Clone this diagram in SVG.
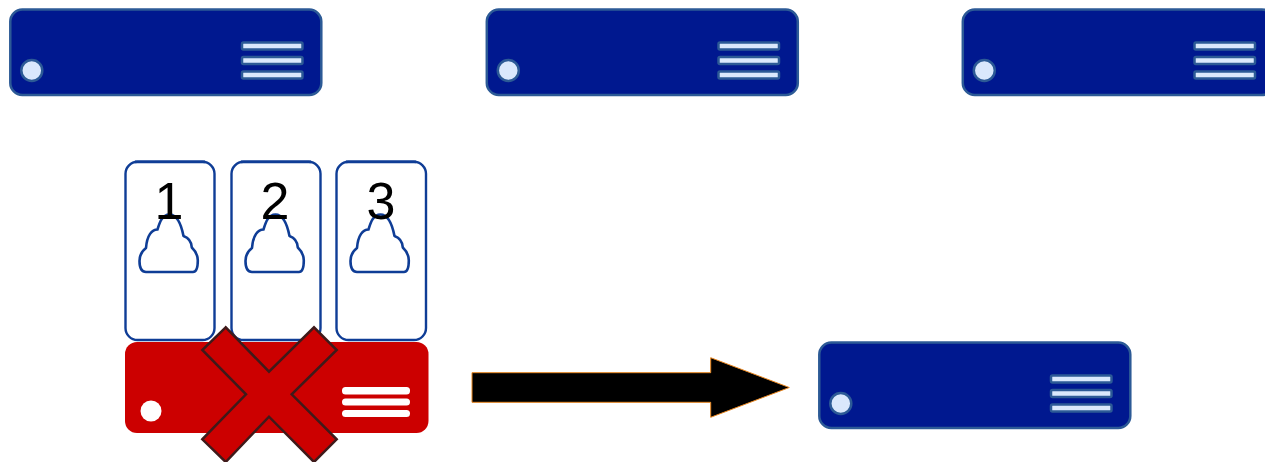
<svg xmlns="http://www.w3.org/2000/svg" xmlns:xlink="http://www.w3.org/1999/xlink" width="1265" height="462" viewBox="0 0 1265 462">
<style>
.body{fill:#00188f;stroke:#2c5a96;stroke-width:2.500}
.lamp{fill:#dae8fc;stroke:#2c5a96;stroke-width:2.500}
.rbody{fill:#cc0000}
.rlamp{fill:#ffffff}
.card{fill:#ffffff;stroke:#0f3d96;stroke-width:2.400}
.cap{fill:none;stroke:#0f3d96;stroke-width:2.800}
.cloud{fill:#ffffff;stroke:#0f3d96;stroke-width:2.600;stroke-linejoin:round}
.num{font-family:"Liberation Sans",Arial,sans-serif;font-size:52px;fill:#000000;text-anchor:middle}
</style>
<defs>
<g id="server">
<rect class="body" x="10.300" y="9.500" width="311" height="85.500" rx="12" ry="12"/>
<circle class="lamp" cx="31.800" cy="70.500" r="10.500"/>
<rect class="lamp" x="242" y="42.500" width="60.500" height="7" rx="1.500"/>
<rect class="lamp" x="242" y="57" width="60.500" height="7" rx="1.500"/>
<rect class="lamp" x="242" y="71.500" width="60.500" height="7" rx="1.500"/>
</g>
<path id="cloud" d="M146 272H193C196.500 272 197.800 266 197.800 260.500C197.800 255 195 250.500 191.800 247.500C191.500 242 189 238 183.500 236C181.500 226 178 214.500 169.500 214.500C162 214.500 159.500 223 157.500 229.500C152 229.500 147 235 146 248C142 251 139.500 255.500 139.500 261C139.500 267 141.500 272 146 272Z"/>
</defs>
<g id="connectors"></g>
<g id="server-1"><use xlink:href="#server" href="#server"/></g>
<g id="server-2"><use xlink:href="#server" href="#server" x="476.500"/></g>
<g id="server-3"><use xlink:href="#server" href="#server" x="952.500"/></g>
<g id="card-1">
<rect class="card" x="125.500" y="161.800" width="89" height="178.200" rx="12"/>
<path class="cap" d="M135 161.800H205"/>
<use class="cloud" xlink:href="#cloud" href="#cloud"/>
<text class="num" x="169" y="219">1</text>
</g>
<g id="card-2">
<rect class="card" x="231.500" y="161.800" width="89" height="178.200" rx="12"/>
<path class="cap" d="M241 161.800H311"/>
<use class="cloud" xlink:href="#cloud" href="#cloud" x="106"/>
<text class="num" x="275" y="219">2</text>
</g>
<g id="card-3">
<rect class="card" x="336.500" y="161.800" width="89.500" height="178.200" rx="12"/>
<path class="cap" d="M346 161.800H416"/>
<use class="cloud" xlink:href="#cloud" href="#cloud" x="211"/>
<text class="num" x="381" y="219">3</text>
</g>
<g id="failed-server">
<rect class="rbody" x="125" y="342" width="303.500" height="91" rx="12"/>
<circle class="rlamp" cx="151" cy="411" r="10.500"/>
<rect class="rlamp" x="342" y="387" width="68" height="7.500" rx="3.500"/>
<rect class="rlamp" x="342" y="398.500" width="68" height="7" rx="3.500"/>
<rect class="rlamp" x="342" y="410" width="68" height="7" rx="3.500"/>
</g>
<g id="cross">
<polygon points="225.700,327.300 202.300,350 246,394.300 202.300,439.300 225.700,462 269,416.700 314,462 336.700,439.300 291.700,394.300 336.700,350 314,327.300 269,371.700" fill="#cc0000" stroke="#3f1a1a" stroke-width="2.500"/>
</g>
<g id="arrow">
<polygon points="472,372.700 710.700,372.700 710.700,357.700 789.300,387.500 710.700,417.300 710.700,402.300 472,402.300" fill="#000000" stroke="#e8851e" stroke-width="1"/>
</g>
<g id="server-4"><use xlink:href="#server" href="#server" x="809" y="333"/></g>
</svg>
